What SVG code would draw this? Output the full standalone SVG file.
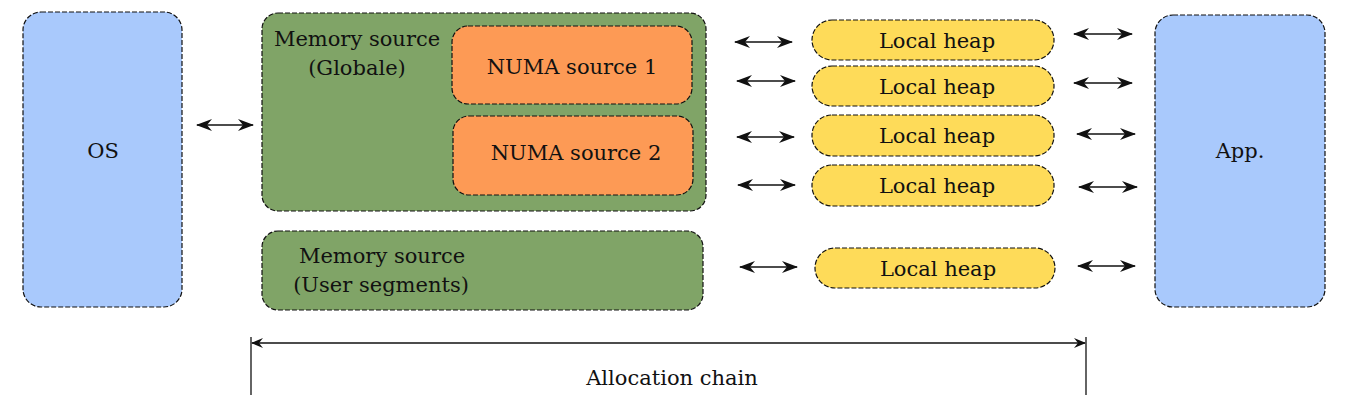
<svg xmlns="http://www.w3.org/2000/svg" width="1357" height="405" viewBox="0 0 1357 405">
<style>
.box{stroke:#111;stroke-width:1.2;stroke-dasharray:5 2}
.blue{fill:#a9c9fc}
.green{fill:#80a467}
.orange{fill:#fd9a55}
.yellow{fill:#fedb59}
text{font-family:'DejaVu Serif','Liberation Serif',serif;font-size:21px;fill:#111;text-anchor:middle}
.conn{stroke:#111;stroke-width:1.3;fill:none}
.dbl{marker-start:url(#ah);marker-end:url(#ah)}
</style>
<defs>
<marker id="ah" viewBox="0 0 16 12" refX="15" refY="6" markerWidth="16" markerHeight="12" markerUnits="userSpaceOnUse" orient="auto-start-reverse">
<path d="M0,0 L16,6 L0,12 L5,6 Z" fill="#111"/>
</marker>
<marker id="ah2" viewBox="0 0 12 10" refX="11" refY="5" markerWidth="12" markerHeight="10" markerUnits="userSpaceOnUse" orient="auto-start-reverse">
<path d="M0,0 L12,5 L0,10 L4,5 Z" fill="#111"/>
</marker>
</defs>

<g id="os">
<rect class="box blue" x="23" y="12" width="159" height="295" rx="18"/>
<text x="103" y="158">OS</text>
</g>

<g id="app">
<rect class="box blue" x="1155" y="15" width="170" height="292" rx="18"/>
<text x="1240" y="158">App.</text>
</g>

<g id="memory-global">
<rect class="box green" x="262" y="13" width="444" height="198" rx="16"/>
<text x="357" y="46">Memory source</text>
<text x="357" y="75">(Globale)</text>
</g>

<g id="numa1">
<rect class="box orange" x="452" y="26" width="240" height="78" rx="16"/>
<text x="572" y="74">NUMA source 1</text>
</g>

<g id="numa2">
<rect class="box orange" x="453" y="116" width="240" height="79" rx="16"/>
<text x="576" y="160">NUMA source 2</text>
</g>

<g id="memory-user">
<rect class="box green" x="262" y="231" width="441" height="79" rx="16"/>
<text x="382" y="263">Memory source</text>
<text x="381" y="292">(User segments)</text>
</g>

<g id="heap1">
<rect class="box yellow" x="812" y="20" width="242" height="40" rx="20"/>
<text x="937" y="48">Local heap</text>
</g>
<g id="heap2">
<rect class="box yellow" x="812" y="66" width="242" height="40" rx="20"/>
<text x="937" y="94">Local heap</text>
</g>
<g id="heap3">
<rect class="box yellow" x="812" y="115" width="242" height="41" rx="20"/>
<text x="937" y="143">Local heap</text>
</g>
<g id="heap4">
<rect class="box yellow" x="812" y="165" width="242" height="41" rx="20"/>
<text x="937" y="193">Local heap</text>
</g>
<g id="heap5">
<rect class="box yellow" x="815" y="248" width="240" height="40" rx="20"/>
<text x="938" y="276">Local heap</text>
</g>

<g id="connectors">
<line class="conn dbl" x1="197" y1="125" x2="253" y2="125"/>
<line class="conn dbl" x1="735" y1="42" x2="792" y2="42"/>
<line class="conn dbl" x1="737" y1="81" x2="795" y2="81"/>
<line class="conn dbl" x1="737" y1="137" x2="794" y2="137"/>
<line class="conn dbl" x1="738" y1="185" x2="795" y2="185"/>
<line class="conn dbl" x1="740" y1="267" x2="797" y2="267"/>
<line class="conn dbl" x1="1074" y1="34" x2="1132" y2="34"/>
<line class="conn dbl" x1="1074" y1="83" x2="1132" y2="83"/>
<line class="conn dbl" x1="1077" y1="134" x2="1135" y2="134"/>
<line class="conn dbl" x1="1079" y1="187" x2="1137" y2="187"/>
<line class="conn dbl" x1="1078" y1="266" x2="1135" y2="266"/>
</g>

<g id="allocation-chain">
<line class="conn" x1="251" y1="337" x2="251" y2="395"/>
<line class="conn" x1="1086" y1="337" x2="1086" y2="395"/>
<line class="conn" x1="252" y1="343" x2="1085" y2="343" marker-start="url(#ah2)" marker-end="url(#ah2)"/>
<text x="672" y="385">Allocation chain</text>
</g>
</svg>
